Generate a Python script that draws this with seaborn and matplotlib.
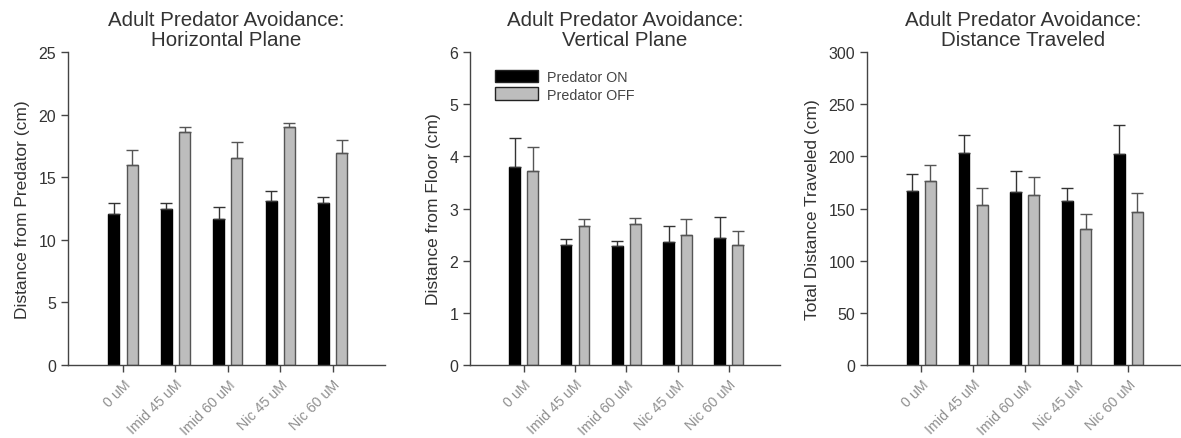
import numpy as np
import pandas as pd
import matplotlib
matplotlib.use("Agg")
import matplotlib.pyplot as plt
import seaborn as sns

categories = ["0 uM", "Imid 45 uM", "Imid 60 uM", "Nic 45 uM", "Nic 60 uM"]
series = ["Predator ON", "Predator OFF"]

horiz_on = [12.1, 12.5, 11.7, 13.1, 12.9]
horiz_on_err = [0.8, 0.4, 0.9, 0.8, 0.55]
horiz_off = [16.0, 18.6, 16.5, 19.0, 16.9]
horiz_off_err = [1.15, 0.4, 1.3, 0.3, 1.1]

vert_on = [3.80, 2.30, 2.28, 2.35, 2.43]
vert_on_err = [0.55, 0.12, 0.10, 0.32, 0.41]
vert_off = [3.72, 2.67, 2.70, 2.50, 2.30]
vert_off_err = [0.46, 0.13, 0.12, 0.30, 0.27]

dist_on = [167, 203, 166, 157, 202]
dist_on_err = [16, 17, 20, 13, 28]
dist_off = [176, 153, 163, 130, 147]
dist_off_err = [16, 17, 17, 15, 18]

titles = ["Adult Predator Avoidance:\nHorizontal Plane",
          "Adult Predator Avoidance:\nVertical Plane",
          "Adult Predator Avoidance:\nDistance Traveled"]
ylabels = ["Distance from Predator (cm)", "Distance from Floor (cm)",
           "Total Distance Traveled (cm)"]
yticks = [[0, 5, 10, 15, 20, 25], [0, 1, 2, 3, 4, 5, 6],
          [0, 50, 100, 150, 200, 250, 300]]

panels = [
    (horiz_on, horiz_on_err, horiz_off, horiz_off_err),
    (vert_on, vert_on_err, vert_off, vert_off_err),
    (dist_on, dist_on_err, dist_off, dist_off_err),
]

sns.set_theme(style="ticks")
plt.rcParams["font.family"] = ["Liberation Sans", "DejaVu Sans"]

W, H = 1181, 439
fig = plt.figure(figsize=(W / 100, H / 100), dpi=100)
boxes = [(68, 385), (470, 780), (867, 1180)]
top_px, bot_px = 53, 366

axis_col = "#444444"
text_col = "#333333"
tick_col = "#8f8f8f"
colors = {"Predator ON": "#000000", "Predator OFF": "#bdbdbd"}

for i, (l, r) in enumerate(boxes):
    ax = fig.add_axes([l / W, 1 - bot_px / H, (r - l) / W, (bot_px - top_px) / H])
    on, on_err, off, off_err = panels[i]
    df = pd.DataFrame({
        "cat": categories * 2,
        "cond": [series[0]] * 5 + [series[1]] * 5,
        "val": list(on) + list(off),
    })
    sns.barplot(data=df, x="cat", y="val", hue="cond", order=categories,
                hue_order=series, palette=colors, width=0.7, gap=0.4,
                errorbar=None, ax=ax, legend=(i == 1),
                edgecolor="#222222", linewidth=1.0)
    bar_conts = list(ax.containers)
    for c, cont in enumerate(bar_conts):
        for b in cont:
            b.set_edgecolor("#000000" if c == 0 else "#555555")
    errs = [on_err, off_err]
    vals = [on, off]
    for c, cont in enumerate(bar_conts):
        xs = [b.get_x() + b.get_width() / 2 for b in cont]
        ax.errorbar(xs, vals[c], yerr=[np.zeros(len(xs)), errs[c]], fmt="none",
                    ecolor="#333333" if c == 0 else "#555555",
                    elinewidth=1.0, capsize=4, capthick=1.0, zorder=1)
    ax.set_xlim(-1.05, 5.0)
    ax.set_ylim(yticks[i][0], yticks[i][-1])
    ax.set_yticks(yticks[i])
    ax.set_xlabel("")
    ax.set_ylabel(ylabels[i], fontsize=12.5, color=text_col, labelpad=6)
    ax.set_title(titles[i], fontsize=14.8, color=text_col, pad=5, linespacing=1.05)
    sns.despine(ax=ax)
    for s in ["left", "bottom"]:
        ax.spines[s].set_color(axis_col)
        ax.spines[s].set_linewidth(1.0)
    ax.tick_params(axis="y", direction="out", length=5, width=1, color=axis_col,
                   labelsize=11.5, labelcolor=text_col)
    ax.tick_params(axis="x", direction="out", length=5, width=1, color=axis_col,
                   labelsize=10.3, labelcolor=tick_col)
    plt.setp(ax.get_xticklabels(), rotation=45, ha="right", rotation_mode="anchor")
    if i == 1:
        leg = ax.legend(loc="upper left", frameon=False, fontsize=10.3,
                        bbox_to_anchor=(0.04, 0.985), handlelength=3.0,
                        handleheight=1.0, labelspacing=0.25, handletextpad=0.6)
        for t in leg.get_texts():
            t.set_color("#444444")

fig.savefig("out.png", dpi=100)
